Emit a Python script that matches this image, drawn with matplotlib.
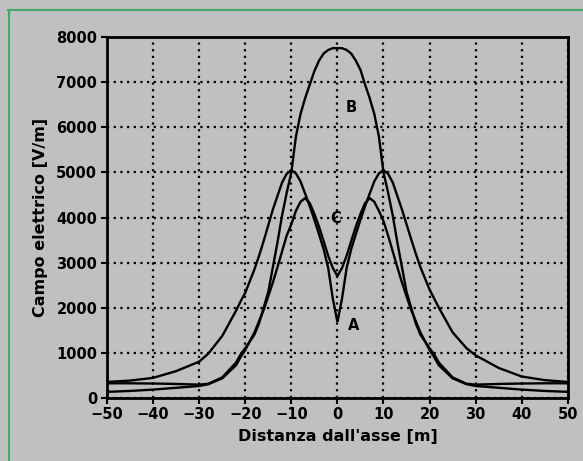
import matplotlib
matplotlib.use("Agg")
import matplotlib.pyplot as plt
from matplotlib.lines import Line2D

# ---- data ----
x = [-50, -45, -40, -35, -30, -28, -25, -22, -21, -20, -18, -17, -16, -15, -14, -13, -12, -11,
     -10, -9, -8, -7, -6, -5, -4, -3, -2, -1, 0, 1, 2, 3, 4, 5, 6, 7, 8, 9, 10,
     11, 12, 13, 14, 15, 16, 17, 18, 20, 21, 22, 25, 28, 30, 35, 40, 45, 50]

curve_A = [350, 380, 440, 590, 800, 980, 1370, 1930, 2140, 2330, 2850, 3150, 3480, 3830, 4180, 4480, 4780, 4970,
           5050, 4980, 4800, 4530, 4250, 3950, 3630, 3300, 2880, 2200, 1680, 2200, 2880, 3300, 3630, 3950, 4250, 4530, 4800, 4980, 5050,
           4970, 4780, 4480, 4180, 3850, 3520, 3200, 2900, 2400, 2200, 2000, 1450, 1100, 940, 660, 470, 390, 350]

curve_B = [320, 320, 315, 305, 290, 310, 450, 780, 960, 1100, 1400, 1650, 2000, 2350, 2900, 3450, 4050, 4550,
           5000, 5800, 6300, 6650, 6950, 7250, 7480, 7640, 7720, 7760, 7760, 7760, 7720, 7640, 7480, 7280, 6950, 6650, 6300, 5800, 5000,
           4550, 4050, 3450, 2900, 2350, 2000, 1650, 1400, 1100, 960, 780, 450, 310, 290, 305, 315, 320, 320]

curve_C = [130, 150, 180, 220, 260, 300, 430, 720, 900, 1060, 1450, 1700, 1950, 2250, 2560, 2900, 3250, 3600,
           3850, 4150, 4350, 4430, 4320, 4080, 3800, 3480, 3150, 2880, 2700, 2880, 3150, 3480, 3800, 4080, 4320, 4430, 4350, 4150, 3920,
           3600, 3250, 2900, 2560, 2250, 1950, 1700, 1450, 1060, 900, 720, 430, 300, 260, 220, 180, 150, 130]

curve_labels = ["A", "B", "C"]
label_pos_x = [3.5, 3.0, -0.3]
label_pos_y = [1600, 6450, 3980]

xticks = [-50, -40, -30, -20, -10, 0, 10, 20, 30, 40, 50]
yticks = [0, 1000, 2000, 3000, 4000, 5000, 6000, 7000, 8000]
xlabel = "Distanza dall'asse [m]"
ylabel = "Campo elettrico [V/m]"

BG = "#c0c0c0"

fig = plt.figure(figsize=(5.83, 4.61), dpi=100, facecolor=BG)
ax = fig.add_axes([0.1835, 0.1373, 0.7905, 0.7817])
ax.set_facecolor(BG)

for ys in (curve_A, curve_B, curve_C):
    ax.plot(x, ys, color="black", lw=1.7, solid_joinstyle="miter")

for lab, lx, ly in zip(curve_labels, label_pos_x, label_pos_y):
    ax.text(lx, ly, lab, fontsize=10.5, fontweight="bold", ha="center", va="center")

ax.set_xlim(-50, 50)
ax.set_ylim(0, 8000)
ax.set_xticks(xticks)
ax.set_yticks(yticks)
ax.grid(True, color="black", linestyle=(0, (1, 2)), linewidth=1.6)
ax.set_axisbelow(True)

for sp in ax.spines.values():
    sp.set_linewidth(2)
    sp.set_color("black")

ax.tick_params(axis="both", direction="out", length=4, width=1.5, colors="black",
               labelsize=10.5, pad=3)
for t in ax.get_xticklabels() + ax.get_yticklabels():
    t.set_fontweight("bold")

ax.set_xlabel(xlabel, fontsize=11.5, fontweight="bold", labelpad=5)
ax.set_ylabel(ylabel, fontsize=11.5, fontweight="bold", labelpad=6)

# green frame (top and left)
green = "#48a86a"
fig.add_artist(Line2D([8 / 583, 1.0], [1 - 10 / 461, 1 - 10 / 461], transform=fig.transFigure,
                      color=green, lw=1.5))
fig.add_artist(Line2D([9 / 583, 9 / 583], [0.0, 1 - 10 / 461], transform=fig.transFigure,
                      color=green, lw=1.5))

fig.savefig("out.png", dpi=100, facecolor=BG)
